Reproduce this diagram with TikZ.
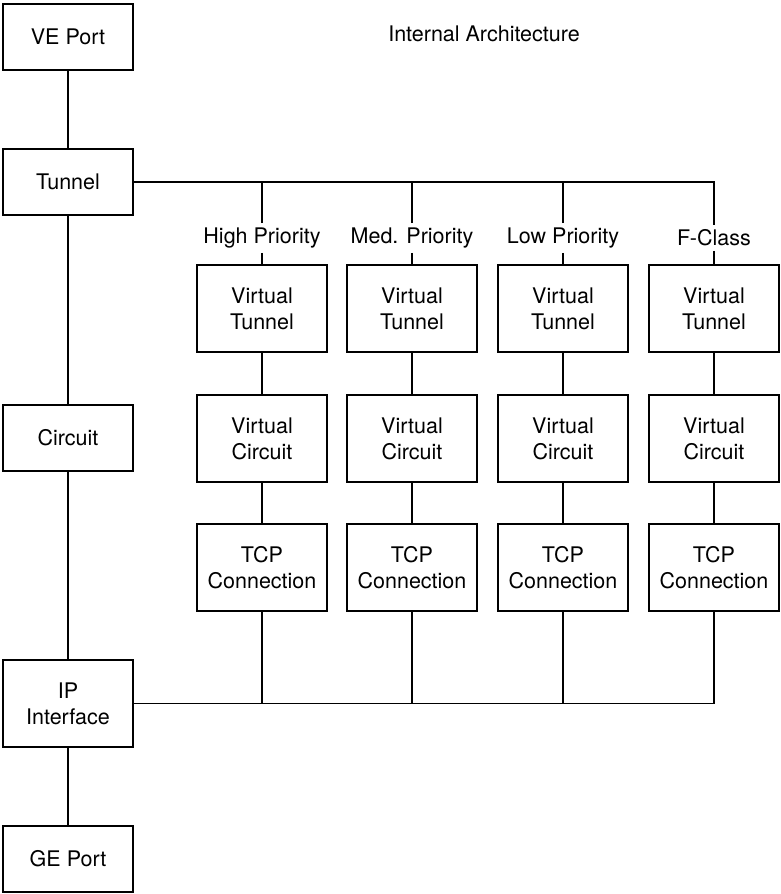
\documentclass[tikz,border=0pt]{standalone}
\usepackage{fontspec}
\setmainfont{TeX Gyre Heros}

\begin{document}
\begin{tikzpicture}[x=1pt,y=-1pt,line width=1.5pt,
    box/.style={draw,minimum width=130pt,align=center,inner sep=0pt},
    onebox/.style={box,minimum height=66pt},
    twobox/.style={box,minimum height=87pt},
    prio/.style={inner sep=4pt}]
    \useasboundingbox(0,0)rectangle(780,894);
    \fontsize{21.5}{26}\selectfont
    \node at(484,34){Internal Architecture};
    % left stack
    \node[onebox](ve)at(68,37){VE Port};
    \node[onebox](tunnel)at(68,182){Tunnel};
    \node[onebox](circuit)at(68,438){Circuit};
    \node[twobox](ip)at(68,703.5){IP\\Interface};
    \node[onebox](ge)at(68,859){GE Port};
    \draw(ve)--(tunnel)(tunnel)--(circuit)(circuit)--(ip)(ip)--(ge);
    % the four columns
    \foreach \i/\x/\name in {1/262/High Priority,2/412/Med. Priority,3/563/Low Priority,4/714/F-Class}{
        \node[prio](lab\i)at(\x,238){\name};
        \node[twobox](vt\i)at(\x,308.5){Virtual\\Tunnel};
        \node[twobox](vc\i)at(\x,438.5){Virtual\\Circuit};
        \node[twobox](tcp\i)at(\x,567.5){TCP\\Connection};
        \draw(lab\i)--(vt\i)(vt\i)--(vc\i)(vc\i)--(tcp\i);
    }
    \foreach \i in {1,2,3}{
        \draw(lab\i.north)--(lab\i.north|-tunnel.east);
        \draw(tcp\i.south)--(tcp\i.south|-ip.east);
    }
    \draw(tunnel.east)-|(lab4.north);
    \draw(ip.east)-|(tcp4.south);
\end{tikzpicture}
\end{document}
